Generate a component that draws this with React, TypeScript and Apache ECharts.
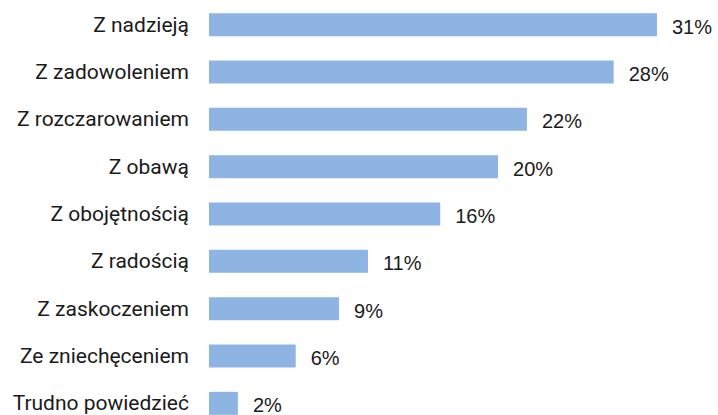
import React, { useEffect, useRef } from "react";
import * as echarts from "echarts";

const categories = [
  "Z nadzieją",
  "Z zadowoleniem",
  "Z rozczarowaniem",
  "Z obawą",
  "Z obojętnością",
  "Z radością",
  "Z zaskoczeniem",
  "Ze zniechęceniem",
  "Trudno powiedzieć",
];
const values = [31, 28, 22, 20, 16, 11, 9, 6, 2];

export default function App() {
  const ref = useRef<HTMLDivElement>(null);
  useEffect(() => {
    document.body.style.margin = "0";
    const chart = echarts.init(ref.current!, null, { renderer: "svg" });
    chart.setOption({
      animation: false,
      grid: { left: 209, top: 1, width: 448, height: 426, containLabel: false },
      xAxis: {
        type: "value",
        min: 0,
        max: 31,
        show: false,
      },
      yAxis: {
        type: "category",
        inverse: true,
        data: categories,
        axisLine: { show: false },
        axisTick: { show: false },
        axisLabel: {
          margin: 20,
          color: "#1a1a1a",
          fontFamily: "Roboto",
          fontSize: 21,
          lineHeight: 20,
        },
      },
      series: [
        {
          type: "bar",
          data: values,
          barWidth: 23,
          itemStyle: { color: "#8EB4E3" },
          label: {
            show: true,
            position: "right",
            distance: 15,
            formatter: "{c}%",
            color: "#1a1a1a",
            fontFamily: "Liberation Sans, Arial, sans-serif",
            fontSize: 20,
            lineHeight: 20,
            offset: [0, 2],
          },
        },
      ],
    });
    return () => chart.dispose();
  }, []);
  return (
    <div style={{ width: 718, height: 415, overflow: "hidden", position: "relative" }}>
      <div ref={ref} style={{ width: 718, height: 440, position: "absolute", top: 0, left: 0 }} />
    </div>
  );
}
